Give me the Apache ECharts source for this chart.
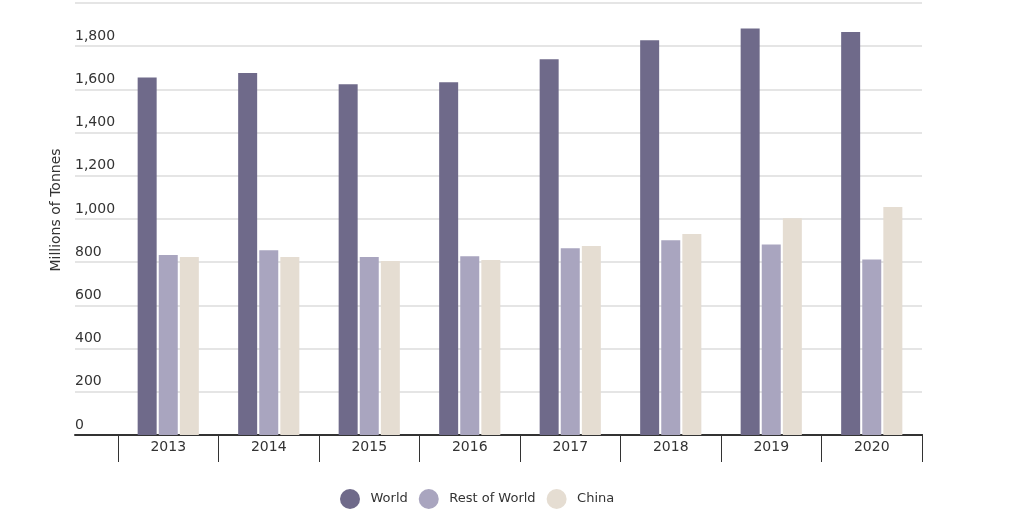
<!DOCTYPE html>
<html><head><meta charset="utf-8">
<script src="https://cdn.jsdelivr.net/npm/echarts@6/dist/echarts.min.js"></script>
<style>html,body{margin:0;padding:0;background:#fff}#c{width:1024px;height:512px}</style>
</head><body><div id="c"></div>
<script>
const categories = ['2013','2014','2015','2016','2017','2018','2019','2020'];
const world = [1655, 1676, 1624, 1633, 1740, 1828, 1882, 1866];
const restOfWorld = [833, 855, 824, 828, 865, 902, 882, 813];
const china = [824, 824, 805, 810, 875, 930, 1004, 1056];
const seriesNames = ['World', 'Rest of World', 'China'];
const colors = ['#6f6a8a', '#a9a5bf', '#e5ddd2'];

const font = '"DejaVu Sans", sans-serif';
const chart = echarts.init(document.getElementById('c'));
chart.setOption({
  animation: false,
  textStyle: { fontFamily: font },
  grid: [
    { left: 75, right: 102, top: 3, bottom: 77 },
    { left: 118, right: 102, top: 3, bottom: 77 }
  ],
  xAxis: [
    { type: 'value', gridIndex: 0, min: 0, max: 1, show: true,
      axisLine: { show: true, lineStyle: { color: '#333', width: 2 } },
      axisTick: { show: false }, axisLabel: { show: false }, splitLine: { show: false } },
    { type: 'category', gridIndex: 1, data: categories,
      axisLine: { show: true, lineStyle: { color: '#333', width: 2 } },
      axisTick: { show: true, length: 27, lineStyle: { color: '#333', width: 1 } },
      axisLabel: { color: '#333', fontSize: 14, margin: 5, fontFamily: font } }
  ],
  yAxis: [
    { type: 'value', gridIndex: 0, min: 0, max: 2000, interval: 200,
      name: 'Millions of Tonnes', nameLocation: 'middle', nameRotate: 90, nameGap: 12,
      nameTextStyle: { color: '#333', fontSize: 14, fontFamily: font, padding: [0, 0, 0, 18] },
      axisLine: { show: false }, axisTick: { show: false },
      axisLabel: { inside: true, verticalAlign: 'bottom', align: 'left', margin: 0,
        color: '#333', fontSize: 14, padding: [0, 0, 3, 0], fontFamily: font,
        formatter: v => v === 2000 ? '' : v.toLocaleString('en-US') },
      splitLine: { show: true, lineStyle: { color: '#dcdcdc', width: 1.5 } } },
    { type: 'value', gridIndex: 1, min: 0, max: 2000, interval: 200, show: false,
      splitLine: { show: false } }
  ],
  legend: {
    bottom: 3, left: 340, padding: 0, icon: 'circle', itemWidth: 31, itemHeight: 20, itemGap: 11,
    textStyle: { color: '#333', fontSize: 13, fontFamily: font },
    data: seriesNames
  },
  series: [world, restOfWorld, china].map((d, i) => ({
    name: seriesNames[i], type: 'bar', xAxisIndex: 1, yAxisIndex: 1,
    data: d, barWidth: 19, barGap: '11%',
    itemStyle: { color: colors[i] }
  }))
});
</script></body></html>
